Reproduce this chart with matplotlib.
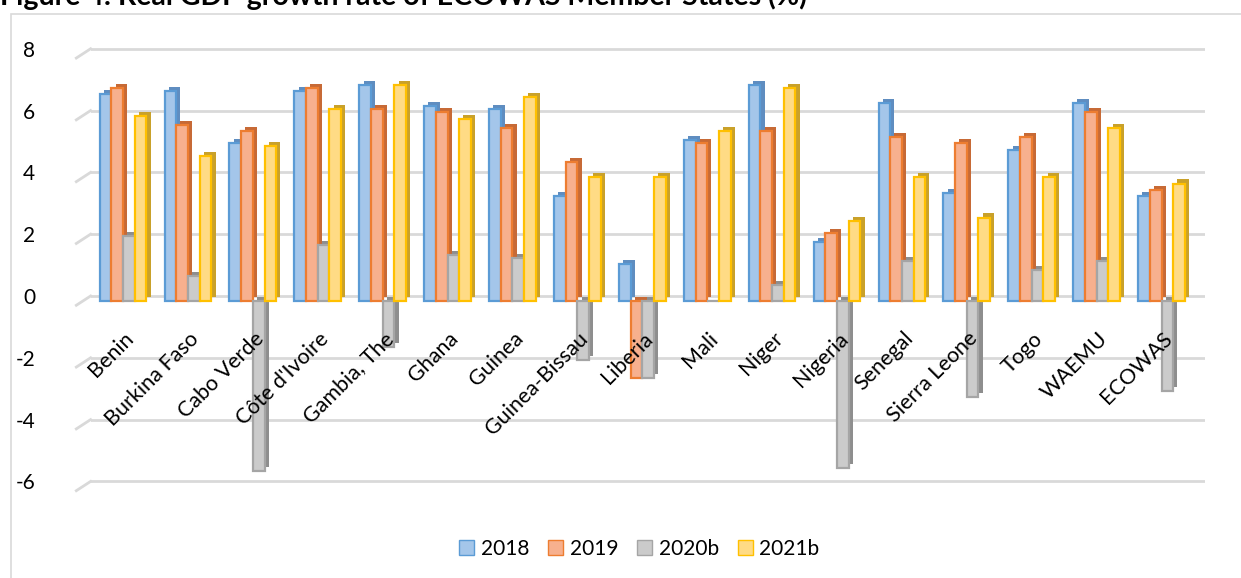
import matplotlib
matplotlib.use("Agg")
import matplotlib.pyplot as plt
import numpy as np
from matplotlib.patches import Patch, Rectangle

plt.rcParams.update({
    "font.family": ["Lato", "DejaVu Sans"],
    "font.size": 15,
})

countries = ["Benin", "Burkina Faso", "Cabo Verde", "Côte d'Ivoire", "Gambia, The",
             "Ghana", "Guinea", "Guinea-Bissau", "Liberia", "Mali", "Niger", "Nigeria",
             "Senegal", "Sierra Leone", "Togo", "WAEMU", "ECOWAS"]
series_names = ["2018", "2019", "2020b", "2021b"]
g2018 = [6.7, 6.8, 5.1, 6.8, 7.0, 6.3, 6.2, 3.4, 1.2, 5.2, 7.0, 1.9, 6.4, 3.5, 4.9, 6.4, 3.4]
g2019 = [6.9, 5.7, 5.5, 6.9, 6.2, 6.1, 5.6, 4.5, -2.5, 5.1, 5.5, 2.2, 5.3, 5.1, 5.3, 6.1, 3.6]
g2020 = [2.1, 0.8, -5.5, 1.8, -1.5, 1.5, 1.4, -1.9, -2.5, 0.0, 0.5, -5.4, 1.3, -3.1, 1.0, 1.3, -2.9]
g2021 = [6.0, 4.7, 5.0, 6.2, 7.0, 5.9, 6.6, 4.0, 4.0, 5.5, 6.9, 2.6, 4.0, 2.7, 4.0, 5.6, 3.8]
yticks = [-6, -4, -2, 0, 2, 4, 6, 8]

FACE = ["#A4C6EA", "#F7B08E", "#CBCBCB", "#FFDB85"]
EDGE = ["#5B9BD5", "#ED7D31", "#A5A5A5", "#FFC000"]
SIDE = ["#5F8DC0", "#C76A36", "#8E8E8E", "#C9A12A"]
GRID = "#D9D9D9"

fig = plt.figure(figsize=(12.41, 5.78), dpi=100)
ax = fig.add_axes([0.073, 0.1457, 0.898, 0.7913])

# plot area border
fig.patches.append(Rectangle((11 / 1241, -0.1), 1.2, 1 - 14 / 578 + 0.1,
                             transform=fig.transFigure, fill=False,
                             edgecolor=GRID, linewidth=1.2))

x = np.arange(len(countries))
w = 0.18
dx, dy = 0.065, 0.13
floor = -0.16   # bars sit slightly in front of the back-wall gridlines
for i, vals in enumerate([g2018, g2019, g2020, g2021]):
    pos = x + (i - 1.5) * w
    vals = np.array(vals)
    ax.bar(pos + dx, vals, width=w, bottom=floor + dy, color=SIDE[i], linewidth=0, zorder=2 + i)
    ax.bar(pos, vals, width=w, bottom=floor, color=FACE[i], edgecolor=EDGE[i],
           linewidth=1.6, zorder=2 + i)

for t in yticks:
    ax.axhline(t, color=GRID, linewidth=2, zorder=0)
    ax.plot([-0.72, -0.5], [t - 0.3, t], color=GRID, linewidth=2, zorder=0, clip_on=False)

ax.set_xlim(-0.5, 16.67)
ax.set_ylim(-6.4, 8.4)
ax.set_yticks(yticks)
ax.set_yticklabels([str(t) for t in yticks])
ax.tick_params(axis="y", length=0, pad=40, labelsize=15)
ax.set_xticks([])
for s in ax.spines.values():
    s.set_visible(False)

for xi, name in zip(x, countries):
    ax.text(xi + 0.01, -1.05, name, rotation=45, ha="right", va="top",
            rotation_mode="anchor", fontsize=15.5, zorder=10)

handles = [Patch(facecolor=FACE[i], edgecolor=EDGE[i], label=series_names[i]) for i in range(4)]
fig.legend(handles=handles, loc="center", bbox_to_anchor=(0.515, 0.05), ncol=4,
           frameon=False, fontsize=15, handlelength=0.75, handleheight=0.75,
           handletextpad=0.3, columnspacing=0.9)

fig.text(0.0, 1 - 5.5 / 578, "Figure 4: Real GDP growth rate of ECOWAS Member States (%)",
         fontsize=20.5, fontweight="bold", ha="left", va="baseline")

fig.savefig("out.png", dpi=100)
